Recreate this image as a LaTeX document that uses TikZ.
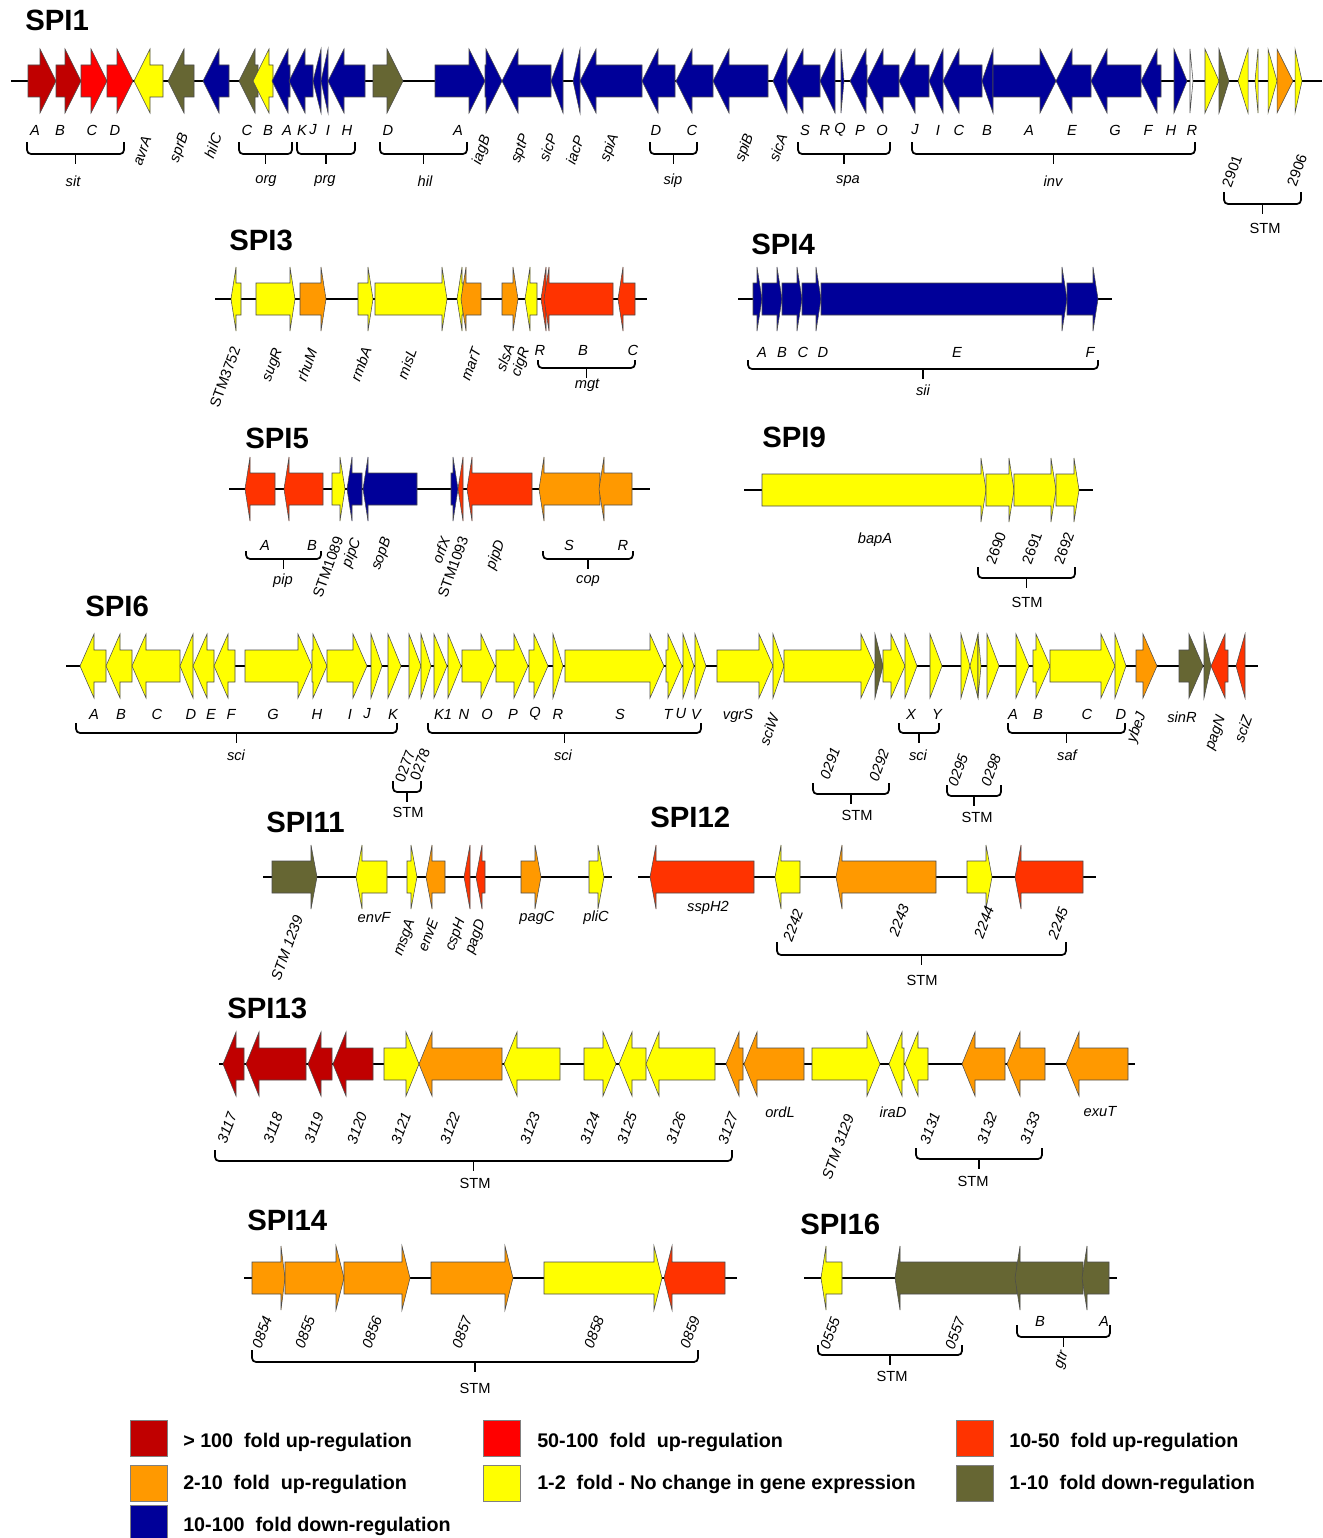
\documentclass[tikz,border=0pt]{standalone}
\usepackage{fontspec}
\setmainfont{Liberation Sans}
\definecolor{cDR}{HTML}{C00000}
\definecolor{cR}{HTML}{FF0000}
\definecolor{cRO}{HTML}{FF3300}
\definecolor{cOr}{HTML}{FF9900}
\definecolor{cY}{HTML}{FFFF00}
\definecolor{cOl}{HTML}{666633}
\definecolor{cB}{HTML}{000099}
\tikzset{
  gene/.style={draw=black!70,line width=0.4pt,line join=miter},
  bb/.style={line width=2pt,black},
  br/.style={line width=1.3pt,rounded corners=3pt},
  lab/.style={font=\fontsize{11}{12}\selectfont\itshape,inner sep=0pt},
  rlab/.style={lab,rotate=70},
  nlab/.style={font=\fontsize{11}{12}\selectfont,inner sep=0pt,rotate=70},
  tlab/.style={font=\fontsize{11}{12}\selectfont,inner sep=0pt},
  ttl/.style={font=\fontsize{22}{24}\selectfont\bfseries,anchor=west,inner sep=0pt},
  leg/.style={font=\fontsize{14.8}{16}\selectfont\bfseries,anchor=west,inner sep=0pt},
  legbox/.style={draw=black!50,line width=0.4pt,minimum width=37*0.75pt,minimum height=36*0.75pt,inner sep=0pt},
}
\newcommand\geneR[3]{\pgfmathsetmacro\gHB{max(#1,#2-\HL)}\filldraw[gene,fill=#3] (#1,\yc-16) -- (\gHB,\yc-16) -- (\gHB,\yc-32) -- (#2,\yc) -- (\gHB,\yc+32) -- (\gHB,\yc+16) -- (#1,\yc+16) -- cycle;}
\newcommand\geneL[3]{\pgfmathsetmacro\gHB{min(#2,#1+\HL)}\filldraw[gene,fill=#3] (#2,\yc-16) -- (\gHB,\yc-16) -- (\gHB,\yc-32) -- (#1,\yc) -- (\gHB,\yc+32) -- (\gHB,\yc+16) -- (#2,\yc+16) -- cycle;}
\newcommand\gbrace[4]{\draw[br] (#1,#3) -- (#1,#4) -- (#2,#4) -- (#2,#3); \draw[br] ({(#1+#2)/2},#4) -- ++(0,10);}
\newcommand\glab[3]{\node[lab] at (#1,#2) {#3};}
\newcommand\grot[3]{\node[rlab] at (#1,#2) {#3};}
\newcommand\gnum[3]{\node[nlab] at (#1,#2) {#3};}
\newcommand\gtxt[3]{\node[tlab] at (#1,#2) {#3};}
\begin{document}
\begin{tikzpicture}[x=0.75pt,y=-0.75pt]
\useasboundingbox[fill=white] (0,0) rectangle (1322,1538);
% ================= SPI1
\node[ttl] (t1) at (25,20) {SPI1};
\def\yc{81}\def\HL{16}
\draw[bb] (11,\yc) -- (1322,\yc);
\geneR{28}{56}{cDR}\geneR{56}{81}{cDR}\geneR{81}{107}{cR}\geneR{107}{133}{cR}
\geneL{134}{163}{cY}\geneL{168}{194}{cOl}\geneL{203}{229}{cB}
\geneL{239}{258}{cOl}\geneL{253}{273}{cY}\geneL{272}{290}{cB}
\geneL{289}{313}{cB}\geneL{313}{321}{cB}\geneL{321}{328}{cB}\geneL{328}{365}{cB}
\geneR{373}{403}{cOl}
\geneR{435}{485}{cB}\geneR{485}{502}{cB}\geneL{502}{551}{cB}\geneL{551}{563}{cB}
\geneL{573}{580}{cB}\geneL{580}{642}{cB}\geneL{642}{675}{cB}\geneL{676}{713}{cB}
\geneL{713}{768}{cB}\geneL{773}{787}{cB}\geneL{787}{820}{cB}\geneL{820}{835}{cB}
\geneR{841}{844}{cB}\geneL{850}{867}{cB}\geneL{867}{899}{cB}
\geneL{899}{929}{cB}\geneL{929}{943}{cB}\geneL{943}{982}{cB}\geneL{982}{993}{cB}
\geneR{993}{1056}{cB}\geneL{1056}{1091}{cB}\geneL{1091}{1141}{cB}\geneL{1141}{1161}{cB}
\geneR{1174}{1187}{cB}\geneR{1190}{1193}{white}
\geneR{1205}{1219}{cY}\geneR{1219}{1229}{cOl}\geneL{1238}{1248}{cY}\geneL{1255}{1258}{cY}
\geneR{1268}{1277}{cY}\geneR{1277}{1293}{cOr}\geneR{1295}{1302}{cY}
\foreach \x/\t in {35/A,60/B,92/C,115/D,247/C,268/B,287/A,302/K,313/J,328/I,347/H,388/D,458/A,656/D,692/C,805/S,825/R,840/Q,860/P,882/O,915/J,938/I,959/C,987/B,1029/A,1072/E,1115/G,1148/F,1171/H,1192/R}{\glab{\x}{130}{\t}}
\gbrace{27}{124}{142}{154}\glab{73}{181}{sit}
\gbrace{239}{292}{142}{154}\glab{266}{181}{org}
\gbrace{297}{355}{142}{154}\glab{325}{181}{prg}
\gbrace{380}{467}{142}{154}\glab{425}{181}{hil}
\gbrace{650}{697}{142}{154}\glab{673}{181}{sip}
\gbrace{798}{890}{142}{154}\glab{848}{181}{spa}
\gbrace{912}{1195}{142}{154}\glab{1053}{181}{inv}
\grot{142}{151}{avrA}\grot{180}{148}{sprB}\grot{213}{146}{hilC}
\grot{482}{150}{iagB}\grot{521}{149}{sptP}\grot{548}{148}{sicP}\grot{575}{150}{iacP}\grot{610}{148}{spiA}
\grot{745}{148}{spiB}\grot{778}{148}{sicA}
\gnum{1232}{171}{2901}\gnum{1297}{170}{2906}
\gbrace{1224}{1301}{192}{204}\gtxt{1265}{228}{STM}
% ================= SPI3
\node[ttl] (t3) at (229,240) {SPI3};
\def\yc{299}\def\HL{5}
\draw[bb] (215,\yc) -- (647,\yc);
\geneL{231}{241}{cY}\geneR{256}{295}{cY}\geneR{300}{326}{cOr}\geneR{358}{373}{cY}
\geneR{375}{447}{cY}\geneL{457}{463}{cY}\geneL{461}{481}{cOr}\geneR{502}{518}{cOr}
\geneL{525}{537}{cY}\geneL{541}{546}{cRO}\geneL{544}{613}{cRO}\geneL{618}{635}{cRO}
\gnum{225}{377}{STM3752}\grot{273}{365}{sugR}\grot{307}{365}{rhuM}\grot{361}{364}{rmbA}
\grot{407}{364}{misL}\grot{471}{364}{marT}\grot{505}{358}{slsA}\grot{521}{362}{cigR}
\glab{540}{350}{R}\glab{583}{350}{B}\glab{633}{350}{C}
\gbrace{538}{635}{360}{368}\glab{587}{385}{mgt}
% ================= SPI4
\node[ttl] (t4) at (751,244) {SPI4};
\def\yc{299}\def\HL{5}
\draw[bb] (738,\yc) -- (1112,\yc);
\geneR{753}{762}{cB}\geneR{762}{782}{cB}\geneR{782}{802}{cB}\geneR{802}{821}{cB}
\geneR{821}{1067}{cB}\geneR{1067}{1098}{cB}
\foreach \x/\t in {762/A,782/B,803/C,823/D,957/E,1090/F}{\glab{\x}{352}{\t}}
\gbrace{748}{1098}{360}{369}\glab{923}{390}{sii}
% ================= SPI5
\node[ttl] (t5) at (245,438) {SPI5};
\def\yc{489}\def\HL{5}
\draw[bb] (229,\yc) -- (650,\yc);
\geneL{245}{275}{cRO}\geneL{284}{323}{cRO}\geneR{332}{345}{cY}\geneL{347}{362}{cB}
\geneL{363}{417}{cB}\geneR{451}{458}{cB}\geneL{458}{463}{cRO}\geneL{467}{532}{cRO}
\geneL{539}{600}{cOr}\geneL{599}{632}{cOr}
\glab{265}{545}{A}\glab{312}{545}{B}\gbrace{246}{321}{551}{559}\glab{283}{581}{pip}
\gnum{328}{567}{STM1089}\grot{352}{553}{pipC}\grot{382}{554}{sopB}\grot{441}{550}{orfX}
\gnum{453}{567}{STM1093}\grot{496}{555}{pipD}
\glab{569}{545}{S}\glab{623}{545}{R}\gbrace{543}{633}{551}{559}\glab{588}{581}{cop}
% ================= SPI9
\node[ttl] (t9) at (762,437) {SPI9};
\def\yc{490}\def\HL{5}
\draw[bb] (744,\yc) -- (1093,\yc);
\geneR{762}{986}{cY}\geneR{986}{1014}{cY}\geneR{1014}{1056}{cY}\geneR{1056}{1079}{cY}
\glab{875}{540}{bapA}
\gnum{996}{548}{2690}\gnum{1032}{548}{2691}\gnum{1064}{548}{2692}
\gbrace{978}{1075}{567}{578}\gtxt{1027}{602}{STM}
% ================= SPI6
\node[ttl] (t6) at (85,606) {SPI6};
\def\yc{666}\def\HL{14}
\draw[bb] (66,\yc) -- (1258,\yc);
\geneL{80}{106}{cY}\geneL{106}{132}{cY}\geneL{132}{180}{cY}\geneL{180}{193}{cY}
\geneL{193}{214}{cY}\geneL{214}{235}{cY}\geneR{245}{312}{cY}\geneR{312}{327}{cY}
\geneR{327}{367}{cY}\geneR{371}{382}{cY}\geneR{388}{401}{cY}\geneR{409}{421}{cY}
\geneR{421}{431}{cY}\geneR{434}{447}{cY}\geneR{448}{461}{cY}\geneR{462}{495}{cY}
\geneR{496}{528}{cY}\geneR{529}{548}{cY}\geneR{553}{563}{cY}\geneR{565}{664}{cY}
\geneR{666}{682}{cY}\geneR{683}{694}{cY}\geneR{695}{706}{cY}
\geneR{717}{773}{cY}\geneR{773}{784}{cY}\geneR{784}{875}{cY}\geneR{875}{883}{cOl}
\geneR{883}{905}{cY}\geneR{905}{917}{cY}\geneR{930}{942}{cY}
\geneR{961}{970}{cY}\geneL{970}{978}{cY}\geneR{978}{981}{cY}\geneR{987}{999}{cY}
\geneR{1016}{1029}{cY}\geneR{1033}{1050}{cY}\geneR{1050}{1115}{cY}\geneR{1115}{1126}{cY}
\geneR{1136}{1157}{cOr}\geneR{1179}{1203}{cOl}\geneR{1204}{1211}{cOl}
\geneL{1211}{1228}{cRO}\geneL{1236}{1245}{cRO}
\foreach \x/\t in {94/A,121/B,157/C,191/D,211/E,231/F,273/G,317/H,350/I,367/J,393/K,443/K1,464/N,487/O,513/P,535/Q,558/R,620/S,668/T,681/U,696/V,911/X,937/Y,1013/A,1038/B,1087/C,1121/D}{\glab{\x}{714}{\t}}
\gbrace{76}{397}{723}{733}\glab{236}{755}{sci}
\gbrace{428}{701}{723}{733}\glab{563}{755}{sci}
\gbrace{899}{939}{723}{733}\glab{918}{755}{sci}
\gbrace{1008}{1125}{723}{733}\glab{1067}{755}{saf}
\glab{738}{716}{vgrS}\grot{769}{730}{sciW}\grot{1137}{728}{ybeJ}\glab{1182}{717}{sinR}
\grot{1216}{733}{pagN}\grot{1243}{729}{sciZ}
\gnum{405}{766}{0277}\gnum{420}{764}{0278}\gbrace{393}{421}{781}{792}\gtxt{408}{812}{STM}
\grot{830}{763}{0291}\grot{879}{765}{0292}\gbrace{813}{889}{783}{794}\gtxt{857}{815}{STM}
\grot{958}{770}{0295}\grot{991}{770}{0298}\gbrace{947}{1001}{785}{796}\gtxt{977}{817}{STM}
% ================= SPI11
\node[ttl] (t11) at (266,822) {SPI11};
\def\yc{877}\def\HL{6}
\draw[bb] (263,\yc) -- (612,\yc);
\geneR{272}{317}{cOl}\geneL{356}{387}{cY}\geneR{407}{417}{cY}\geneL{426}{445}{cOr}
\geneL{464}{470}{cRO}\geneL{476}{485}{cRO}\geneR{521}{541}{cOr}\geneR{589}{604}{cY}
\grot{287}{948}{STM 1239}\glab{374}{918}{envF}\grot{405}{938}{msgA}\grot{428}{935}{envE}
\grot{456}{935}{cspH}\grot{476}{937}{pagD}\glab{537}{918}{pagC}\glab{596}{918}{pliC}
% ================= SPI12
\node[ttl] (t12) at (650,817) {SPI12};
\draw[bb] (638,\yc) -- (1096,\yc);
\geneL{650}{754}{cRO}\geneL{775}{800}{cY}\geneL{836}{936}{cOr}\geneR{967}{992}{cY}\geneL{1015}{1083}{cRO}
\glab{708}{908}{sspH2}
\grot{793}{925}{2242}\grot{899}{920}{2243}\grot{984}{922}{2244}\grot{1058}{923}{2245}
\gbrace{777}{1066}{942}{955}\gtxt{922}{980}{STM}
% ================= SPI13
\node[ttl] (t13) at (227,1008) {SPI13};
\def\yc{1064}\def\HL{13}
\draw[bb] (219,\yc) -- (1135,\yc);
\geneL{223}{244}{cDR}\geneL{246}{306}{cDR}\geneL{308}{332}{cDR}\geneL{333}{373}{cDR}
\geneR{384}{419}{cY}\geneL{419}{502}{cOr}\geneL{504}{560}{cY}\geneR{584}{616}{cY}
\geneL{619}{646}{cY}\geneL{646}{715}{cY}\geneL{726}{743}{cOr}\geneL{744}{804}{cOr}
\geneR{812}{880}{cY}\geneL{889}{904}{cY}\geneL{905}{928}{cY}
\geneL{962}{1005}{cOr}\geneL{1007}{1045}{cOr}\geneL{1066}{1128}{cOr}
\foreach \x/\t in {227/3117,273/3118,314/3119,357/3120,401/3121,450/3122,530/3123,590/3124,627/3125,676/3126,728/3127,930/3131,987/3132,1030/3133}{\grot{\x}{1128}{\t}}
\glab{780}{1112}{ordL}\grot{838}{1147}{STM 3129}\glab{893}{1112}{iraD}\glab{1100}{1112}{exuT}
\gbrace{215}{732}{1150}{1161}\gtxt{475}{1183}{STM}
\gbrace{916}{1042}{1148}{1159}\gtxt{973}{1181}{STM}
% ================= SPI14
\node[ttl] (t14) at (247,1220) {SPI14};
\def\yc{1278}\def\HL{4}
\draw[bb] (244,\yc) -- (737,\yc);
\geneR{252}{285}{cOr}
\def\HL{8}
\geneR{285}{344}{cOr}\geneR{344}{410}{cOr}\geneR{431}{513}{cOr}\geneR{544}{662}{cY}\geneL{664}{725}{cRO}
\foreach \x/\t in {262/0854,305/0855,372/0856,462/0857,594/0858,690/0859}{\grot{\x}{1332}{\t}}
\gbrace{252}{698}{1350}{1362}\gtxt{475}{1388}{STM}
% ================= SPI16
\node[ttl] (t16) at (800,1224) {SPI16};
\def\HL{5}
\draw[bb] (804,\yc) -- (1117,\yc);
\geneL{821}{842}{cY}\geneL{895}{1017}{cOl}\geneL{1015}{1083}{cOl}\geneL{1082}{1109}{cOl}
\grot{830}{1333}{0555}\grot{955}{1333}{0557}\gbrace{818}{962}{1345}{1355}\gtxt{892}{1376}{STM}
\glab{1040}{1321}{B}\glab{1104}{1321}{A}\gbrace{1017}{1110}{1325}{1337}\grot{1062}{1360}{gtr}
% ================= legend
\node[legbox,fill=cDR] (l1) at (148.5,1438) {};
\node[leg] (lt1) at (183,1442) {> 100\ \ fold up-regulation};
\node[legbox,fill=cR] (l2) at (501.5,1438) {};
\node[leg] (lt2) at (537,1442) {50-100\ \ fold\ \ up-regulation};
\node[legbox,fill=cRO] (l3) at (974.5,1438) {};
\node[leg] (lt3) at (1009,1442) {10-50\ \ fold up-regulation};
\node[legbox,fill=cOr] (l4) at (148.5,1483) {};
\node[leg] (lt4) at (183,1484) {2-10\ \ fold\ \ up-regulation};
\node[legbox,fill=cY] (l5) at (501.5,1483) {};
\node[leg] (lt5) at (537,1484) {1-2\ \ fold - No change in gene expression};
\node[legbox,fill=cOl] (l6) at (974.5,1483) {};
\node[leg] (lt6) at (1009,1484) {1-10\ \ fold down-regulation};
\node[legbox,fill=cB] (l7) at (148.5,1523) {};
\node[leg] (lt7) at (183,1526) {10-100\ \ fold down-regulation};
\end{tikzpicture}
\end{document}
